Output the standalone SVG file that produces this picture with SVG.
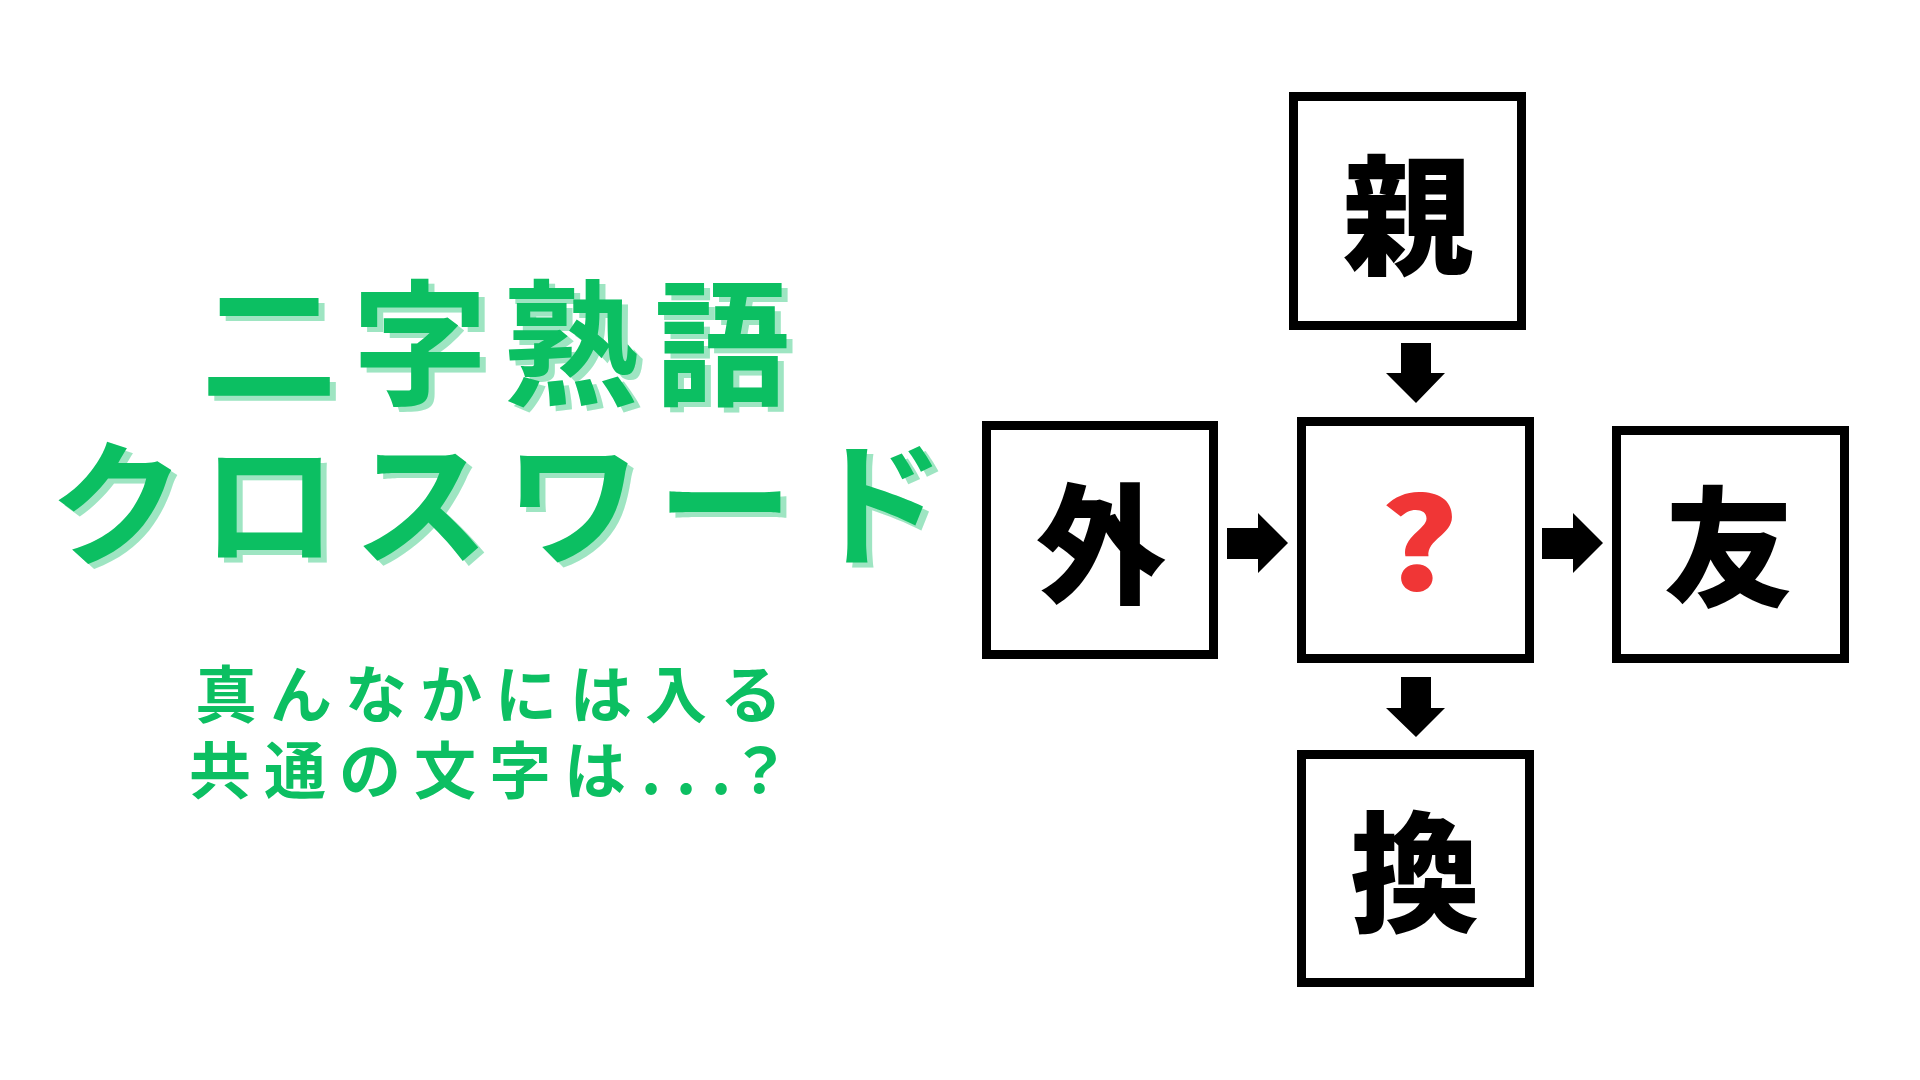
<svg xmlns="http://www.w3.org/2000/svg" xmlns:xlink="http://www.w3.org/1999/xlink" width="1920" height="1080" viewBox="0 0 1920 1080">
  <style>
    .jp { font-family: "Noto Sans CJK JP", "Noto Sans CJK SC", sans-serif; }
    .title { font-size: 136px; font-weight: 700; text-anchor: middle; }
    .sub { font-size: 62px; font-weight: 700; text-anchor: middle; fill: #0cbf62; }
    .box { fill: #ffffff; stroke: #000000; stroke-width: 9; }
    .kanji { font-size: 130px; font-weight: 900; text-anchor: middle; fill: #000000; }
    .q { font-size: 126px; font-weight: 900; text-anchor: middle; fill: #f03636; }
    .arrow { fill: #000000; }
  </style>
  <defs>
    <text id="t1" class="jp title" x="269 420 571 722" y="395">二字熟語</text>
    <text id="t2" class="jp title" x="117 269 421 573 725 877" y="555">クロスワード</text>
  </defs>
  <rect width="1920" height="1080" fill="#ffffff"/>

  <g id="title">
    <use xlink:href="#t1" href="#t1" transform="translate(6,5)" fill="#9ee5c2"/>
    <use xlink:href="#t1" href="#t1" fill="#0cbf62"/>
    <use xlink:href="#t2" href="#t2" transform="translate(6,5)" fill="#9ee5c2"/>
    <use xlink:href="#t2" href="#t2" fill="#0cbf62"/>
  </g>

  <g id="subtitle">
    <text class="jp sub" x="226 301 376 451 526 601 676 751" y="718">真んなかには入る</text>
    <text class="jp sub" x="220 295 370 445 520 595 651 686 721 760" y="794">共通の文字は...？</text>
  </g>

  <g id="node-top">
    <rect class="box" x="1293.5" y="96.5" width="228" height="229"/>
    <text class="jp kanji" x="1408" y="264">親</text>
  </g>
  <g id="node-left">
    <rect class="box" x="986.5" y="425.5" width="227" height="229"/>
    <text class="jp kanji" x="1101" y="593">外</text>
  </g>
  <g id="node-center">
    <rect class="box" x="1301.5" y="421.5" width="228" height="237"/>
    <text class="jp q" x="0" y="590" transform="translate(1419,0) scale(1.18,1)">?</text>
  </g>
  <g id="node-right">
    <rect class="box" x="1616.5" y="430.5" width="228" height="228"/>
    <text class="jp kanji" x="1729" y="596">友</text>
  </g>
  <g id="node-bottom">
    <rect class="box" x="1301.5" y="754.5" width="228" height="228"/>
    <text class="jp kanji" x="1415" y="921">換</text>
  </g>

  <g id="connectors">
    <polygon class="arrow" points="1401,343 1431,343 1431,373 1445,373 1416,403 1386,373 1401,373"/>
    <polygon class="arrow" points="1401,677 1431,677 1431,708 1445,708 1416,737 1386,708 1401,708"/>
    <polygon class="arrow" points="1227,528 1258,528 1258,513 1288,543 1258,573 1258,559 1227,559"/>
    <polygon class="arrow" points="1542,528 1573,528 1573,513 1603,543 1573,573 1573,559 1542,559"/>
  </g>
</svg>
